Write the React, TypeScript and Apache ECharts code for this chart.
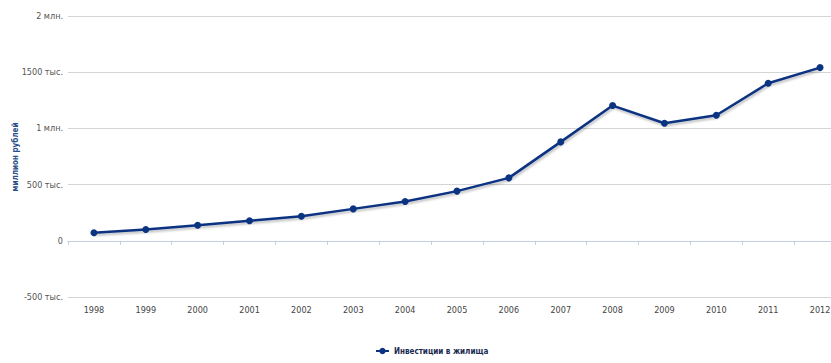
import React, { useEffect, useRef } from "react";
import * as echarts from "echarts";

const years = ["1998","1999","2000","2001","2002","2003","2004","2005","2006","2007","2008","2009","2010","2011","2012"];
const investments = [72, 100, 139, 178, 219, 284, 350, 442, 560, 880, 1203, 1046, 1117, 1402, 1541];
const seriesName = "Инвестиции в жилища";
const yAxisTitle = "миллион рублей";

const FONT = "'DejaVu Sans Condensed', 'DejaVu Sans', sans-serif";

function fmt(v: number): string {
  if (v === 0) return "0";
  if (v % 1000 === 0) return v / 1000 + " млн.";
  return v + " тыс.";
}

export default function App() {
  const ref = useRef<HTMLDivElement>(null);
  useEffect(() => {
    document.body.style.margin = "0";
    const chart = echarts.init(ref.current!, null, { renderer: "svg" });
    chart.setOption({
      animation: false,
      textStyle: { fontFamily: FONT },
      legend: {
        bottom: 3,
        left: 370,
        itemWidth: 13,
        itemHeight: 8,
        textStyle: { fontSize: 8, fontWeight: "bold", color: "#1a2a50", fontFamily: FONT },
        data: [seriesName],
      },
      graphic: [
        {
          type: "text",
          x: 15,
          y: 157,
          rotation: Math.PI / 2,
          style: {
            text: yAxisTitle,
            fontSize: 8,
            fontWeight: "bold",
            fill: "#2a4f8a",
            fontFamily: FONT,
            textAlign: "center",
            textVerticalAlign: "middle",
          },
        },
      ],
      grid: { left: 68, top: 16, right: -15, bottom: 66, containLabel: false, outerBoundsMode: "none" },
      xAxis: {
        type: "category",
        data: years,
        boundaryGap: true,
        axisLine: { lineStyle: { color: "#c0d0e0", width: 1 } },
        axisTick: { show: true, length: 4, lineStyle: { color: "#c0d0e0" } },
        axisLabel: { fontSize: 9, color: "#444", margin: 8, fontFamily: FONT },
      },
      yAxis: {
        type: "value",
        min: -500,
        max: 2000,
        interval: 500,
        axisLine: { show: false },
        axisTick: { show: false },
        axisLabel: { fontSize: 9, color: "#555", margin: 5, formatter: fmt, fontFamily: FONT },
        splitLine: { lineStyle: { color: "#d4d4d4", width: 1 } },
      },
      series: [
        {
          name: seriesName,
          type: "line",
          data: investments,
          symbol: "circle",
          symbolSize: 7,
          color: "#0a3382",
          lineStyle: {
            width: 2.5,
            color: "#0a3382",
            shadowColor: "rgba(0,0,0,0.25)",
            shadowBlur: 2,
            shadowOffsetY: 2,
            shadowOffsetX: 1,
          },
          itemStyle: { color: "#0a3382" },
        },
      ],
    });
    return () => chart.dispose();
  }, []);
  return <div ref={ref} style={{ width: 831, height: 363 }} />;
}
